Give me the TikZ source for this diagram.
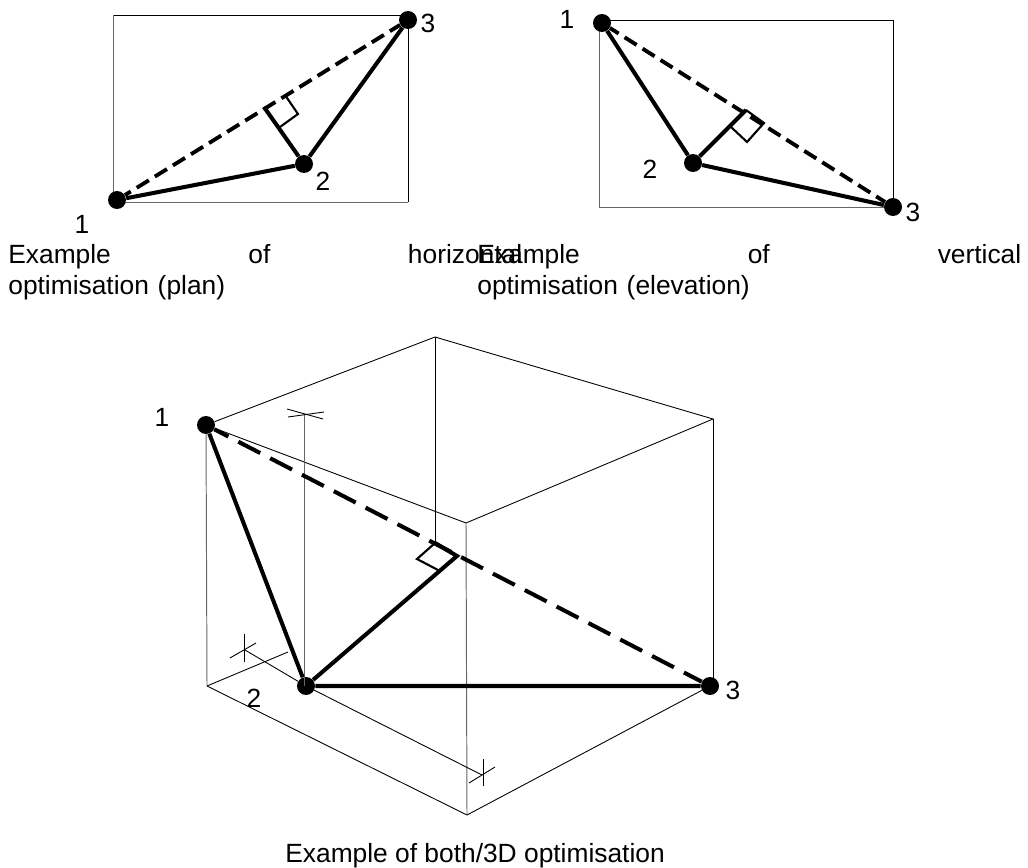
\documentclass[tikz,border=0pt]{standalone}
\usepackage{fontspec}
\setmainfont{Liberation Sans}
\tikzset{
    dot/.style={circle, fill=black, draw=none, minimum size=0.36cm, inner sep=0pt},
    numlabel/.style={inner sep=0pt, font=\fontsize{15}{18}\selectfont},
    caption/.style={inner sep=0pt, anchor=north west, align=left, font=\fontsize{15}{17.6}\selectfont},
    thinline/.style={line width=0.5pt, black},
    greyline/.style={line width=0.55pt, black!60},
    thickline/.style={line width=2.3pt, black},
    squareline/.style={line width=1.2pt, black, line join=miter},
    dashline/.style={line width=2.2pt, black, dash pattern=on 8.1pt off 4pt},
    longdash/.style={line width=2.3pt, black, dash pattern=on 14pt off 6.4pt, dash phase=5pt}
}
\begin{document}
\begin{tikzpicture}[x=0.02cm, y=-0.02cm]
    \useasboundingbox (0,0) rectangle (1028,868);

    % Plan
    \draw[thinline] (113,15.5) -- (408,15.5) -- (408,202);
    \draw[greyline] (113,15.5) -- (113,202) -- (408,202);
    \node[dot] (pa) at (117,200) {};
    \node[dot] (pb) at (304,164) {};
    \node[dot] (pc) at (408,20) {};
    \coordinate (pf) at (264,107);
    \coordinate (pg) at (285,95);
    \coordinate (ph) at (298,114);
    \coordinate (pi) at (280,127);
    \draw[dashline, dash phase=4.2pt] (pa) -- (pc);
    \draw[thickline] (pa) -- (pb) -- (pc);
    \draw[thickline] (pb) -- (pf);
    \draw[squareline] (pg) -- (ph) -- (pi);
    \node[numlabel] (pal) at (82,224) {1};
    \node[numlabel] (pbl) at (323,181) {2};
    \node[numlabel] (pcl) at (428,23) {3};
    \node[caption, text width=10.28cm] (pcap) at (8,244) {Example\hfill of\hfill horizontal\\optimisation (plan)};

    % Elevation
    \draw[thinline] (599,20.5) -- (893,20.5) -- (893,207);
    \draw[greyline] (599,20.5) -- (599,207.5) -- (893,207.5);
    \node[dot] (ea) at (602,23) {};
    \node[dot] (eb) at (693,163) {};
    \node[dot] (ec) at (893,207) {};
    \coordinate (ef) at (746,110);
    \coordinate (eg) at (764,123);
    \coordinate (eh) at (747,142);
    \coordinate (ei) at (731,127);
    \draw[dashline, dash phase=2.2pt] (ea) -- (ec);
    \draw[thickline] (ea) -- (eb) -- (ec);
    \draw[thickline] (eb) -- (ef);
    \draw[squareline] (ef) -- (eg) -- (eh) -- (ei);
    \node[numlabel] (eal) at (567,19) {1};
    \node[numlabel] (ebl) at (650,169) {2};
    \node[numlabel] (ecl) at (913,212) {3};
    \node[caption, text width=10.88cm] (ecap) at (477,244) {Example\hfill of\hfill vertical\\optimisation (elevation)};

    % Box
    \coordinate (ttop) at (435,337);
    \coordinate (tfront) at (466,523);
    \coordinate (tright) at (713,419);
    \coordinate (bleft) at (207,686);
    \coordinate (bfront) at (467,815);
    \coordinate (bright) at (713,680);
    \node[dot] (ba) at (206,425) {};
    \node[dot] (bb) at (306,686) {};
    \node[dot] (bc) at (710,686) {};
    \draw[thinline] (ba) -- (ttop) -- (tright) -- (tfront) -- (ba);
    \draw[greyline] (ba) -- (bleft);
    \draw[greyline] (tfront) -- (bfront);
    \draw[thinline] (tright) -- (bright);
    \draw[thinline] (bleft) -- (bfront) -- (bc);

    % Construction lines
    \coordinate (up) at (304,414);
    \coordinate (upend) at (304,686);
    \coordinate (foot) at (435,543);
    \coordinate (lt) at (245,650);
    \coordinate (rt) at (482,775);
    \coordinate (lend) at (288,652);
    \draw[greyline] (up) -- (upend);
    \draw[thinline] (ttop) -- (foot);
    \draw[thinline] (bleft) -- (lend);
    \draw[thinline] (lt) -- (bb) -- (rt);
    \draw[thinline] (287,409) -- (323,419);
    \draw[thinline] (288,417) -- (324,412);
    \draw[thinline] (244,634) -- (244,662);
    \draw[thinline] (230,658) -- (256,643);
    \draw[thinline] (483,759) -- (483,786);
    \draw[thinline] (469,783) -- (495,767);

    % Triangle
    \coordinate (bf) at (457,556);
    \coordinate (bg) at (417,559);
    \coordinate (bh) at (438,570);
    \draw[longdash] (ba) -- (bc);
    \draw[thickline] (ba) -- (bb) -- (bc);
    \draw[thickline] (bb) -- (bf) -- (foot);
    \draw[squareline] (foot) -- (bg) -- (bh);
    \node[numlabel] (bal) at (162,417) {1};
    \node[numlabel] (bbl) at (254,698) {2};
    \node[numlabel] (bcl) at (733,690) {3};
    \node[caption, anchor=base west] (bcap) at (285,862) {Example of both/3D optimisation};
\end{tikzpicture}
\end{document}
